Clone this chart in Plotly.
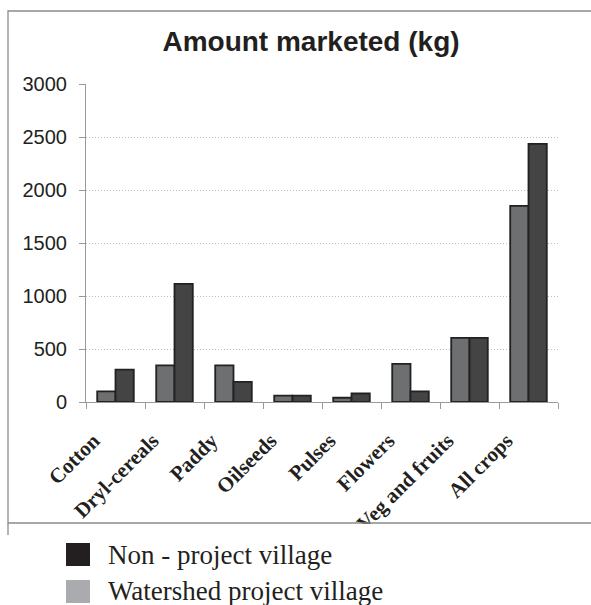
import plotly.graph_objects as go

# Crop categories and amount marketed (kg) per village type
categories = ["Cotton", "Dryl-cereals", "Paddy", "Oilseeds", "Pulses",
              "Flowers", "Veg and fruits", "All crops"]
watershed_kg = [100, 345, 345, 60, 40, 360, 605, 1850]
non_project_kg = [305, 1115, 190, 60, 80, 100, 605, 2435]

y_ticks = [0, 500, 1000, 1500, 2000, 2500, 3000]

W, H = 591, 605
L, R, T, B = 86, 33, 84, 203
PW, PH = W - L - R, H - T - B

fig = go.Figure()
fig.add_trace(go.Bar(
    x=categories, y=watershed_kg, name="Watershed project village",
    marker=dict(color="#6e6f70", line=dict(color="#222222", width=1.8)),
    showlegend=False,
))
fig.add_trace(go.Bar(
    x=categories, y=non_project_kg, name="Non - project village",
    marker=dict(color="#444444", line=dict(color="#222222", width=1.8)),
    showlegend=False,
))


# helpers: page pixels -> paper coordinates (paper spans the plot area)
def px_x(v):
    return (v - L) / PW


def px_y(v):
    return (H - B - v) / PH


shapes = [
    # outer chart frame
    dict(type="rect", xref="paper", yref="paper",
         x0=px_x(8), x1=px_x(W + 5), y0=px_y(523), y1=px_y(11),
         line=dict(color="#8c8c8c", width=1.3), fillcolor="rgba(0,0,0,0)",
         layer="above"),
    # white band trimming labels below the frame
    dict(type="rect", xref="paper", yref="paper",
         x0=px_x(9), x1=px_x(W + 5), y0=px_y(540), y1=px_y(524),
         line=dict(width=0), fillcolor="white", layer="above"),
    dict(type="line", xref="paper", yref="paper",
         x0=px_x(8), x1=px_x(8), y0=px_y(535), y1=px_y(523),
         line=dict(color="#8c8c8c", width=1.3), layer="above"),
    # legend swatches
    dict(type="rect", xref="paper", yref="paper",
         x0=px_x(66), x1=px_x(90), y0=px_y(566), y1=px_y(543),
         line=dict(width=0), fillcolor="#231f20", layer="above"),
    dict(type="rect", xref="paper", yref="paper",
         x0=px_x(66), x1=px_x(90), y0=px_y(603), y1=px_y(580),
         line=dict(width=0), fillcolor="#a9abae", layer="above"),
]

annotations = [
    dict(text="Non - project village", xref="paper", yref="paper",
         x=px_x(106), y=px_y(555), xanchor="left", yanchor="middle",
         showarrow=False,
         font=dict(family="Liberation Serif", size=27, color="#231f20")),
    dict(text="Watershed project village", xref="paper", yref="paper",
         x=px_x(106), y=px_y(591), xanchor="left", yanchor="middle",
         showarrow=False,
         font=dict(family="Liberation Serif", size=27, color="#231f20")),
]

fig.update_layout(
    width=W, height=H,
    margin=dict(l=L, r=R, t=T, b=B, pad=0),
    paper_bgcolor="white", plot_bgcolor="white",
    barmode="group", bargap=0.38, bargroupgap=0,
    title=dict(text="<b>Amount marketed (kg)</b>", x=311 / W, xanchor="center",
               y=1 - 41 / H, yanchor="middle",
               font=dict(family="Liberation Sans", size=28, color="#231f20")),
    shapes=shapes, annotations=annotations,
)

fig.update_yaxes(
    range=[0, 3000], tickvals=y_ticks,
    showgrid=True, gridcolor="#bdbdbd", griddash="1px,2px", gridwidth=1,
    showline=True, linecolor="#9a9a9a", linewidth=1,
    ticks="outside", ticklen=6, tickcolor="#9a9a9a", ticklabelstandoff=8,
    tickfont=dict(family="Liberation Sans", size=20, color="#231f20"),
    zeroline=False, fixedrange=True,
)
fig.update_xaxes(
    showline=True, linecolor="#9a9a9a", linewidth=1,
    ticks="outside", ticklen=6, tickcolor="#9a9a9a", tickson="boundaries",
    tickangle=-45, ticklabelstandoff=17, ticklabelshift=-22,
    tickfont=dict(family="Liberation Serif", size=21, color="#231f20"),
    tickprefix="<b>", ticksuffix="</b>",
    showgrid=False,
)

fig.write_html("out.html")
